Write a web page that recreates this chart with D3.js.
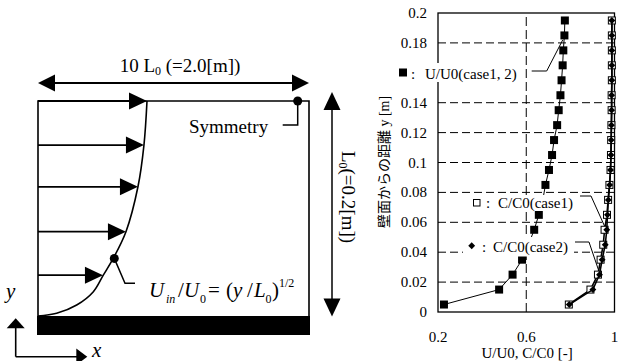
<!DOCTYPE html>
<html><head><meta charset="utf-8">
<script src="https://cdn.jsdelivr.net/npm/d3@7"></script>
<style>
body{margin:0;background:#fff}svg{display:block}
svg text{font-family:"Liberation Serif","Times New Roman",Times,"DejaVu Serif",serif;}
svg text.jp{font-family:"Liberation Serif","Times New Roman","Noto Sans CJK JP",serif;}
</style>
</head><body><svg id="c" width="619" height="361"></svg>
<script>
// ---------- data (right chart) ----------
const heights = [0.005,0.015,0.025,0.035,0.045,0.055,0.065,0.075,0.085,0.095,0.105,0.115,0.125,0.135,0.145,0.155,0.165,0.175,0.185,0.195];
const uRatio  = [0.227,0.477,0.538,0.581,0.610,0.636,0.657,0.675,0.687,0.703,0.717,0.726,0.740,0.747,0.755,0.760,0.765,0.768,0.773,0.775];
const cCase1  = [0.793,0.891,0.925,0.937,0.949,0.955,0.966,0.971,0.977,0.982,0.984,0.985,0.986,0.987,0.987,0.988,0.988,0.988,0.988,0.988];
const cCase2  = [0.795,0.902,0.932,0.944,0.958,0.965,0.968,0.972,0.978,0.982,0.984,0.985,0.986,0.987,0.987,0.988,0.988,0.988,0.988,0.988];
const yTicks  = [0,0.02,0.04,0.06,0.08,0.1,0.12,0.14,0.18,0.2];
const yTickLabels = ["0","0.02","0.04","0.06","0.08","0.1","0.12","0.14","0.18","0.2"];
const yGrid   = [0.02,0.04,0.06,0.08,0.1,0.12,0.14,0.18];
const xTicks  = [0.2,0.6,1];
const xTickLabels = ["0.2","0.6","1"];
const xGrid   = [0.6];
// ---------- data (schematic inlet profile, normalised) ----------
const profileH = [0,0.0126,0.051,0.113,0.19,0.268,0.392,0.601,0.795,1];
const profileU = [0,0.171,0.355,0.508,0.599,0.69,0.807,0.917,0.972,1];
const arrowH   = [0.19,0.392,0.601,0.795,1];
const arrowU   = [0.596,0.807,0.917,0.972,1];

const svg = d3.select("#c");

// ================= right chart =================
const x = d3.scaleLinear().domain([0.2,1]).range([438,614.5]);
const y = d3.scaleLinear().domain([0,0.2]).range([312,13]);
const g = svg.append("g");

g.selectAll(".hg").data(yGrid).join("line")
  .attr("x1",x(0.2)).attr("x2",x(1)).attr("y1",d=>y(d)).attr("y2",d=>y(d))
  .attr("stroke","#000").attr("stroke-width",1).attr("stroke-dasharray","8,4");
g.selectAll(".vg").data(xGrid).join("line")
  .attr("x1",d=>x(d)).attr("x2",d=>x(d)).attr("y1",y(0)).attr("y2",y(0.2))
  .attr("stroke","#000").attr("stroke-width",1).attr("stroke-dasharray","9,4");

g.append("rect").attr("x",x(0.2)).attr("y",y(0.2)).attr("width",x(1)-x(0.2)).attr("height",y(0)-y(0.2))
  .attr("fill","none").attr("stroke","#000").attr("stroke-width",1.3);

const pts = (arr)=>arr.map((v,i)=>[x(v),y(heights[i])]);
const line = d3.line();

g.append("path").attr("d",line(pts(uRatio))).attr("fill","none").attr("stroke","#000").attr("stroke-width",1);
g.selectAll(".u").data(pts(uRatio)).join("rect")
  .attr("x",d=>d[0]-4).attr("y",d=>d[1]-4).attr("width",8).attr("height",8).attr("fill","#000");
g.append("path").attr("d",line(pts(cCase1))).attr("fill","none").attr("stroke","#000").attr("stroke-width",1.6);
g.selectAll(".c1").data(pts(cCase1)).join("rect")
  .attr("x",d=>d[0]-3.5).attr("y",d=>d[1]-3.5).attr("width",7).attr("height",7)
  .attr("fill","#fff").attr("stroke","#000").attr("stroke-width",1);
g.append("path").attr("d",line(pts(cCase2))).attr("fill","none").attr("stroke","#000").attr("stroke-width",1.6);
const dia = d3.symbol().type(d3.symbolDiamond2).size(30);
g.selectAll(".c2").data(pts(cCase2)).join("path")
  .attr("transform",d=>`translate(${d[0]},${d[1]})`).attr("d",dia()).attr("fill","#000");

g.selectAll(".yl").data(yTicks).join("text")
  .attr("x",427).attr("y",(d)=>y(d)+5).attr("text-anchor","end")
  .attr("font-size",15).text((d,i)=>yTickLabels[i]);
g.selectAll(".xl").data(xTicks).join("text")
  .attr("x",d=>x(d)).attr("y",342).attr("text-anchor","middle")
  .attr("font-size",15).text((d,i)=>xTickLabels[i]);
g.append("text").attr("x",527).attr("y",358).attr("text-anchor","middle")
  .attr("font-size",15).text("U/U0, C/C0 [-]");
g.append("text").attr("class","jp").attr("transform","translate(389,162) rotate(-90)").attr("text-anchor","middle")
  .attr("font-size",14).text("壁面からの距離 y [m]");

// legends (white boxes)
g.append("rect").attr("x",396).attr("y",63).attr("width",127).attr("height",19).attr("fill","#fff");
g.append("rect").attr("x",468).attr("y",195).attr("width",111).attr("height",16).attr("fill","#fff");
g.append("rect").attr("x",463).attr("y",237).attr("width",111).attr("height",19.5).attr("fill","#fff");

g.append("rect").attr("x",399).attr("y",68.5).attr("width",8).attr("height",8).attr("fill","#000");
g.append("text").attr("y",79).attr("font-size",15)
  .call(t=>{t.append("tspan").attr("x",411).text(":");t.append("tspan").attr("x",425).text("U/U0(case1, 2)");});
g.append("rect").attr("x",473.5).attr("y",199.5).attr("width",6.5).attr("height",6.5).attr("fill","#fff").attr("stroke","#000");
g.append("text").attr("y",207.5).attr("font-size",15)
  .call(t=>{t.append("tspan").attr("x",486).text(":");t.append("tspan").attr("x",498).text("C/C0(case1)");});
g.append("path").attr("transform","translate(471.7,245.8)").attr("d",dia()).attr("fill","#000");
g.append("text").attr("y",251.5).attr("font-size",15)
  .call(t=>{t.append("tspan").attr("x",482).text(":");t.append("tspan").attr("x",493).text("C/C0(case2)");});

const leaders = [
  [[531.7,71],[546.7,71],[562.7,40]],
  [[580,196],[591,196],[604.5,226]],
  [[575,242],[589,242],[598.5,270]]
];
leaders.forEach(l=>g.append("path").attr("d",line(l)).attr("fill","none").attr("stroke","#000").attr("stroke-width",1));

// ================= schematic =================
const s = svg.append("g");
const sx = d3.scaleLinear().domain([0,1]).range([38,147]);
const sy = d3.scaleLinear().domain([0,1]).range([316,101]);
const LEFT=38, RIGHT=309, TOP=sy(1), BOT=sy(0);

function head(tx,ty,dir,len=17,hw=8.5){
  let p;
  if(dir==='r') p=[[tx,ty],[tx-len,ty-hw],[tx-len,ty+hw]];
  if(dir==='l') p=[[tx,ty],[tx+len,ty-hw],[tx+len,ty+hw]];
  if(dir==='u') p=[[tx,ty],[tx-hw,ty+len],[tx+hw,ty+len]];
  if(dir==='d') p=[[tx,ty],[tx-hw,ty-len],[tx+hw,ty-len]];
  s.append("path").attr("d","M"+p.join("L")+"Z").attr("fill","#000");
}
const stroke=(sel,w)=>sel.attr("fill","none").attr("stroke","#000").attr("stroke-width",w);

stroke(s.append("path").attr("d",line([[LEFT,BOT],[LEFT,TOP],[RIGHT,TOP],[RIGHT,BOT]])),1.6);
s.append("rect").attr("x",37).attr("y",BOT).attr("width",273).attr("height",19).attr("fill","#000");

const prof = profileH.map((h,i)=>[sx(profileU[i]),sy(h)]);
stroke(s.append("path").attr("d",d3.line().curve(d3.curveCatmullRom.alpha(0.5))(prof)),1.6);
arrowH.forEach((h,i)=>{
  const tx=sx(arrowU[i]), ty=sy(h);
  stroke(s.append("line").attr("x1",LEFT).attr("x2",tx-10).attr("y1",ty).attr("y2",ty),1.8);
  head(tx,ty,'r',18,8.5);
});
s.append("circle").attr("cx",sx(0.70)).attr("cy",sy(0.268)).attr("r",4.5).attr("fill","#000");
stroke(s.append("path").attr("d",line([[sx(0.70),sy(0.268)],[125,283.3],[135,283.3]])),1.5);

stroke(s.append("line").attr("x1",LEFT+10).attr("x2",RIGHT-10).attr("y1",83).attr("y2",83),2);
head(LEFT,83,'l'); head(RIGHT,83,'r');
s.append("text").attr("x",180).attr("y",72).attr("text-anchor","middle").attr("font-size",19)
  .call(t=>{t.append("tspan").text("10 L");t.append("tspan").attr("font-size",12).attr("dy",3).text("0");
            t.append("tspan").attr("dy",-3).text(" (=2.0[m])");});

s.append("circle").attr("cx",297.7).attr("cy",TOP).attr("r",4.5).attr("fill","#000");
stroke(s.append("path").attr("d",line([[297.7,TOP],[297.7,125],[282.7,125]])),1.5);
s.append("text").attr("x",189).attr("y",133).attr("font-size",19).text("Symmetry");

stroke(s.append("line").attr("x1",332).attr("x2",332).attr("y1",100).attr("y2",308),1.5);
head(332,92,'u',18,8.5); head(332,316.5,'d',18,8.5);
s.append("text").attr("transform","translate(342,197) rotate(90)").attr("text-anchor","middle")
  .attr("font-size",19)
  .call(t=>{t.append("tspan").text("L");t.append("tspan").attr("font-size",12).attr("dy",3).text("0");
            t.append("tspan").attr("dy",-3).text("(=0.2[m])");});

const F = s.append("g");
const piece=(txt,px,py,size,ital)=>F.append("text").attr("x",px).attr("y",py).attr("font-size",size)
  .attr("font-style",ital?"italic":"normal").text(txt);
piece("U",149,297,21,true); piece("in",166,303,12,true); piece("/",178,297,21,false);
piece("U",184,297,21,true); piece("0",200,303,12,false); piece("=",208,297,21,false);
piece("(",226,297,21,false); piece("y",233,297,21,true); piece("/",247,297,21,false);
piece("L",254,297,21,true); piece("0",265.5,303,12,false); piece(")",272,297,21,false);
piece("1/2",279,287,12,false);

stroke(s.append("line").attr("x1",15.7).attr("x2",15.7).attr("y1",356.7).attr("y2",326),1.6);
head(15.7,318.3,'u',10,9);
stroke(s.append("line").attr("x1",15.7).attr("x2",78).attr("y1",356.7).attr("y2",356.7),1.6);
head(87.3,356.7,'r',11,8.3);
s.append("text").attr("x",6).attr("y",298).attr("font-style","italic").attr("font-size",21).text("y");
s.append("text").attr("x",92).attr("y",357).attr("font-style","italic").attr("font-size",21).text("x");
</script></body></html>
